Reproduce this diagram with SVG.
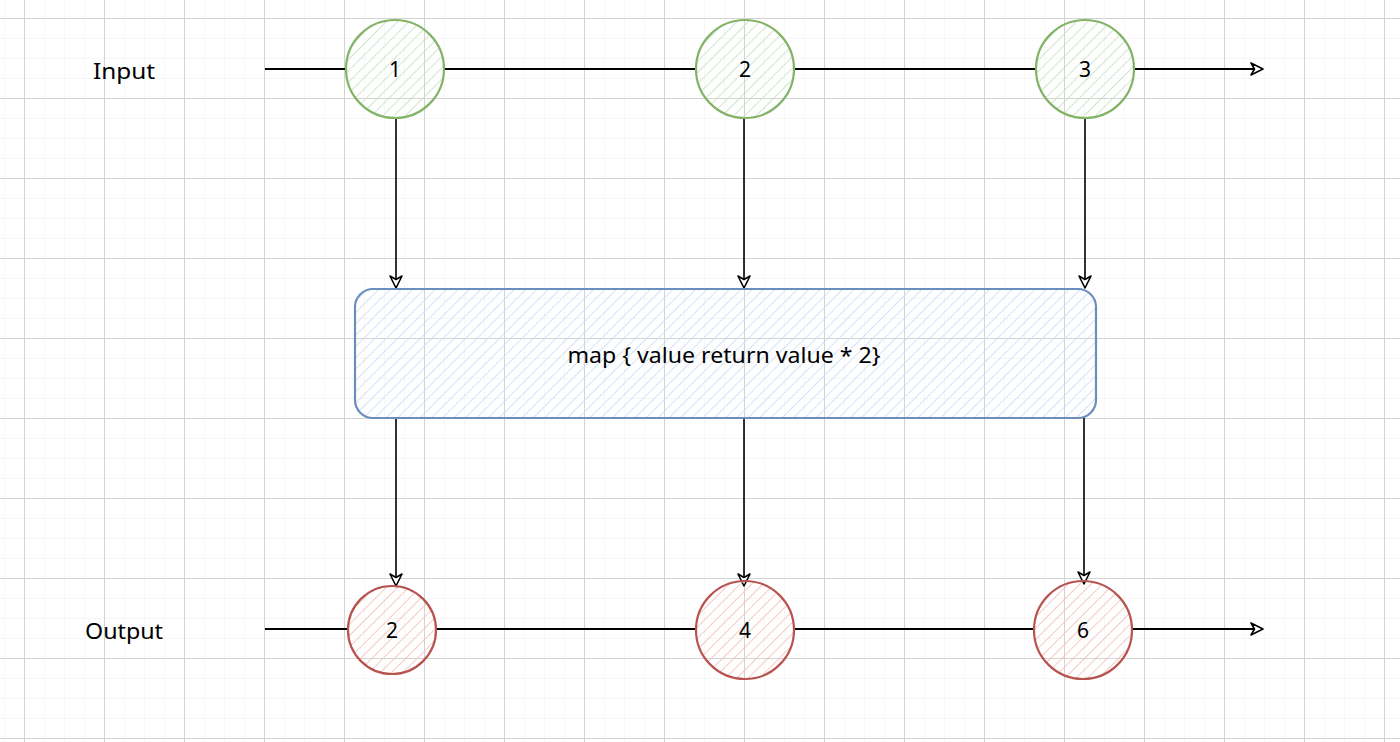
<svg xmlns="http://www.w3.org/2000/svg" width="1400" height="742" viewBox="0 0 1400 742">
<defs>
<pattern id="minor" width="20" height="20" patternUnits="userSpaceOnUse" x="4" y="18">
<path d="M0 0H20M0 0V20" fill="none" stroke="#f0f0f0" stroke-width="1"/>
</pattern>
<pattern id="major" width="80" height="80" patternUnits="userSpaceOnUse" x="24" y="18">
<path d="M0 0.5H80M0.5 0V80" fill="none" stroke="#d3d3d3" stroke-width="1"/>
</pattern>
<pattern id="hG" width="8" height="8" patternUnits="userSpaceOnUse" patternTransform="rotate(45)">
<line x1="0" y1="0" x2="0" y2="8" stroke="#c5e0c3" stroke-width="1.6"/>
</pattern>
<pattern id="hR" width="8" height="8" patternUnits="userSpaceOnUse" patternTransform="rotate(45)">
<line x1="0" y1="0" x2="0" y2="8" stroke="#f3bdba" stroke-width="1.6"/>
</pattern>
<pattern id="hB" width="8" height="8" patternUnits="userSpaceOnUse" patternTransform="rotate(45)">
<line x1="0" y1="0" x2="0" y2="8" stroke="#c9dcf7" stroke-width="1.6"/>
</pattern>
<marker id="arr" viewBox="0 0 16 16" refX="14" refY="8" markerWidth="16" markerHeight="16" markerUnits="userSpaceOnUse" orient="auto">
<path d="M2 2L14 8L2 14L5.5 8Z" fill="#fff" stroke="#000" stroke-width="1.6" stroke-linejoin="round"/>
</marker>
<style>
.lbl{font-family:"Comic Sans MS","Noto Sans",sans-serif;font-size:21px;fill:#000;text-anchor:middle;dominant-baseline:central}
.g{fill:url(#hG);stroke:#82b366;stroke-width:2.2}
.r{fill:url(#hR);stroke:#b85450;stroke-width:2.2}
.b{fill:url(#hB);stroke:#6c8ebf;stroke-width:2.2}
.c{fill:none;stroke:#000;stroke-width:2.2}
.ca{fill:none;stroke:#000;stroke-width:2;marker-end:url(#arr)}
.cv{fill:none;stroke:#000;stroke-width:1.6;marker-end:url(#arr)}
</style>
</defs>
<rect width="1400" height="742" fill="#fff"/>
<rect width="1400" height="742" fill="url(#minor)"/>
<rect width="1400" height="742" fill="url(#major)"/>

<g id="connectors">
<path class="c" d="M265 69H346"/>
<path class="c" d="M444 69H696"/>
<path class="c" d="M794 69H1036"/>
<path class="ca" d="M1134 69H1263"/>
<path class="c" d="M265 629H348"/>
<path class="c" d="M436 629H696"/>
<path class="c" d="M794 629H1034"/>
<path class="ca" d="M1132 629H1263"/>
<path class="cv" d="M396 119V288"/>
<path class="cv" d="M744 119V288"/>
<path class="cv" d="M1085 119V288"/>
<path class="cv" d="M396 418V586"/>
<path class="cv" d="M744 418V586"/>
<path class="cv" d="M1084 418V584"/>
</g>

<g id="label-input"><text class="lbl" x="124" y="71" textLength="62" lengthAdjust="spacingAndGlyphs">Input</text></g>
<g id="label-output"><text class="lbl" x="124" y="631" textLength="78" lengthAdjust="spacingAndGlyphs">Output</text></g>

<g id="in1"><circle class="g" cx="395" cy="69" r="49"/><text class="lbl" x="395" y="69">1</text></g>
<g id="in2"><circle class="g" cx="745" cy="69" r="49"/><text class="lbl" x="745" y="69">2</text></g>
<g id="in3"><circle class="g" cx="1085" cy="69" r="49"/><text class="lbl" x="1085" y="69">3</text></g>

<g id="map"><rect class="b" x="355" y="289" width="741" height="129" rx="18"/><text class="lbl" x="724" y="355" textLength="313" lengthAdjust="spacingAndGlyphs">map { value return value * 2}</text></g>

<g id="out2"><circle class="r" cx="392" cy="630" r="44"/><text class="lbl" x="392" y="630">2</text></g>
<g id="out4"><circle class="r" cx="745" cy="630" r="49"/><text class="lbl" x="745" y="630">4</text></g>
<g id="out6"><circle class="r" cx="1083" cy="630" r="49"/><text class="lbl" x="1083" y="630">6</text></g>
</svg>
